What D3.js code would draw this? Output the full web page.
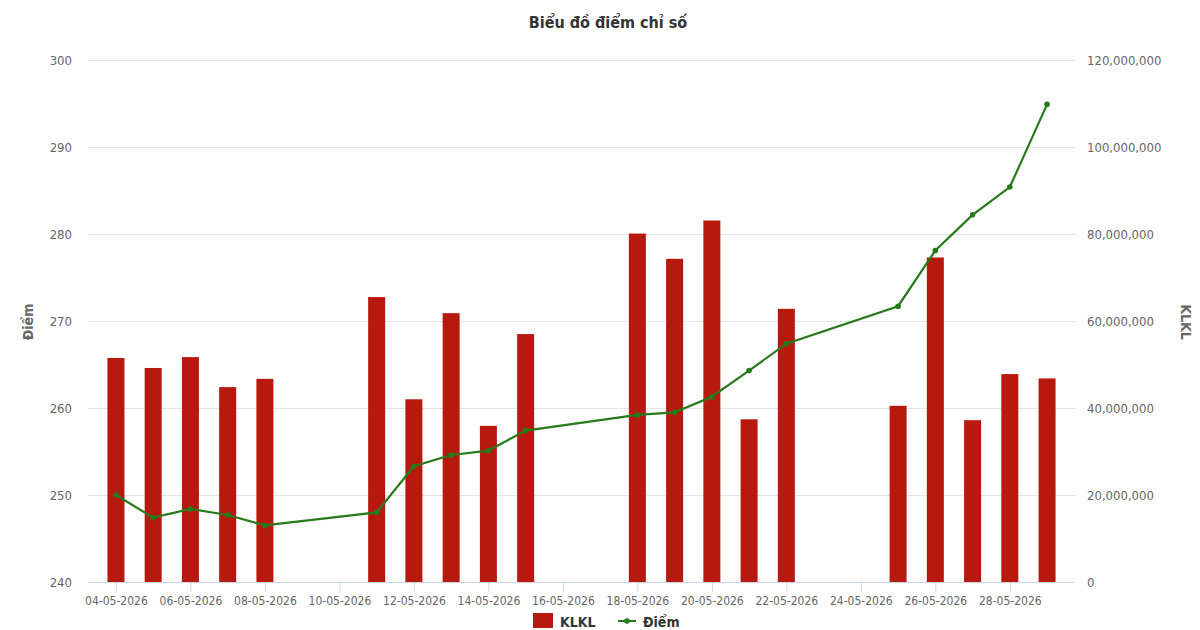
<!DOCTYPE html>
<html><head><meta charset="utf-8">
<script src="https://cdn.jsdelivr.net/npm/d3@7"></script>
<style>
body{margin:0;background:#fff;}
text{font-family:"Liberation Sans Narrow","DejaVu Sans Condensed","Roboto Condensed","Open Sans",sans-serif;}
</style></head>
<body><svg id="c" width="1200" height="630"></svg>
<script>
const dates = ["04-05-2026","05-05-2026","06-05-2026","07-05-2026","08-05-2026",
"11-05-2026","12-05-2026","13-05-2026","14-05-2026","15-05-2026",
"18-05-2026","19-05-2026","20-05-2026","21-05-2026","22-05-2026",
"25-05-2026","26-05-2026","27-05-2026","28-05-2026","29-05-2026"];
const volume = [51500000,49200000,51700000,44800000,46700000,
65500000,42000000,61800000,35900000,57000000,
80100000,74300000,83100000,37400000,62800000,
40500000,74600000,37200000,47800000,46800000];
const points = [250.0,247.4,248.4,247.7,246.5,
248.0,253.3,254.6,255.1,257.4,
259.2,259.5,261.3,264.3,267.4,
271.7,278.1,282.2,285.4,294.9];
const leftTicks = [240,250,260,270,280,290,300];
const rightTicks = [0,20000000,40000000,60000000,80000000,100000000,120000000];
const xTickLabels = ["04-05-2026","06-05-2026","08-05-2026","10-05-2026","12-05-2026","14-05-2026","16-05-2026","18-05-2026","20-05-2026","22-05-2026","24-05-2026","26-05-2026","28-05-2026"];

const parse = d3.utcParse("%d-%m-%Y");
const fmt = d3.utcFormat("%d-%m-%Y");
const data = dates.map((d,i)=>({date:parse(d), vol:volume[i], pt:points[i]}));
const svg = d3.select("#c");
const L=88, R=1075, T=60, B=582;
const DAY=864e5;
const x = d3.scaleUtc().domain([new Date(parse(dates[0]).getTime()-0.75*DAY), new Date(parse(dates[dates.length-1]).getTime()+0.75*DAY)]).range([L,R]);
const yL = d3.scaleLinear().domain([240,300]).range([B,T]);
const yR = d3.scaleLinear().domain([0,120000000]).range([B,T]);

// grid
svg.append("g").selectAll("line").data(leftTicks.slice(1)).join("line")
 .attr("x1",L).attr("x2",R).attr("y1",d=>yL(d)+0.5).attr("y2",d=>yL(d)+0.5)
 .attr("stroke","#e6e6e6").attr("stroke-width",1);

// bars
const bw=17;
svg.append("g").selectAll("rect").data(data).join("rect")
 .attr("x",d=>x(d.date)-bw/2).attr("width",bw)
 .attr("y",d=>yR(d.vol)).attr("height",d=>B-yR(d.vol))
 .attr("fill","#b8190f");

// x axis
const xAxis = d3.axisBottom(x).tickValues(xTickLabels.map(parse)).tickFormat(fmt).tickSize(10).tickPadding(4);
const gx = svg.append("g").attr("transform",`translate(0,${B})`).call(xAxis);
gx.select(".domain").attr("stroke","#ccd6eb").attr("d",`M${L},0.5H${R}`);
gx.selectAll(".tick line").attr("stroke","#ccd6eb");
gx.selectAll("text").attr("fill","#666").attr("font-size","12px");

// left axis
const gl = svg.append("g").attr("transform",`translate(${L},0)`).call(d3.axisLeft(yL).tickValues(leftTicks).tickSize(0).tickPadding(16));
gl.select(".domain").remove();
gl.selectAll("text").attr("fill","#666").attr("font-size","13px");
// right axis
const gr = svg.append("g").attr("transform",`translate(${R},0)`).call(d3.axisRight(yR).tickValues(rightTicks).tickSize(0).tickPadding(12).tickFormat(d3.format(",")));
gr.select(".domain").remove();
gr.selectAll("text").attr("fill","#666").attr("font-size","13px");

// line
const line = d3.line().x(d=>x(d.date)).y(d=>yL(d.pt));
svg.append("path").datum(data).attr("d",line).attr("fill","none").attr("stroke","#277a1a").attr("stroke-width",2.2);
svg.append("g").selectAll("circle").data(data).join("circle")
 .attr("cx",d=>x(d.date)).attr("cy",d=>yL(d.pt)).attr("r",2.8).attr("fill","#277a1a");

// titles
svg.append("text").attr("x",608).attr("y",28).attr("text-anchor","middle").attr("font-size","16px").attr("font-weight","bold").attr("fill","#333").text("Biểu đồ điểm chỉ số");
svg.append("text").attr("transform","translate(33,322) rotate(-90)").attr("text-anchor","middle").attr("font-size","14px").attr("font-weight","bold").attr("fill","#666").text("Điểm");
svg.append("text").attr("transform","translate(1181,322) rotate(90)").attr("text-anchor","middle").attr("font-size","14px").attr("font-weight","bold").attr("fill","#666").text("KLKL");

// legend
const lg = svg.append("g");
lg.append("rect").attr("x",533).attr("y",613).attr("width",20).attr("height",15).attr("fill","#b8190f");
lg.append("text").attr("x",560).attr("y",627).attr("font-size","14px").attr("font-weight","bold").attr("fill","#333").text("KLKL");
lg.append("line").attr("x1",618).attr("x2",636).attr("y1",621).attr("y2",621).attr("stroke","#277a1a").attr("stroke-width",2);
lg.append("circle").attr("cx",627).attr("cy",621).attr("r",2.8).attr("fill","#277a1a");
lg.append("text").attr("x",643).attr("y",627).attr("font-size","14px").attr("font-weight","bold").attr("fill","#333").text("Điểm");
</script></body></html>
